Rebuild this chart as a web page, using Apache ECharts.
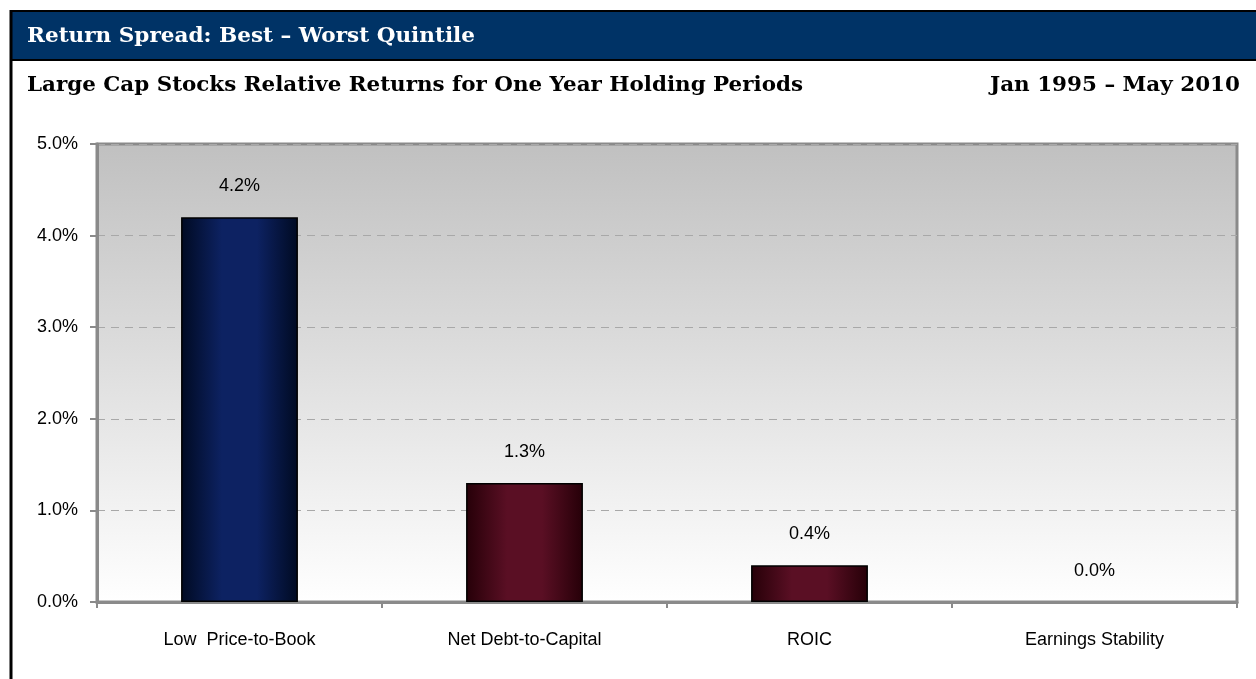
<!DOCTYPE html>
<html>
<head>
<meta charset="utf-8">
<script src="https://cdn.jsdelivr.net/npm/echarts@6/dist/echarts.min.js"></script>
<style>
html,body{margin:0;padding:0;background:#fff;}
#c{width:1256px;height:679px;}
</style>
</head>
<body>
<div id="c"></div>
<script>
const categories = ['Low  Price-to-Book', 'Net Debt-to-Capital', 'ROIC', 'Earnings Stability'];
const values = [4.2, 1.3, 0.4, 0.0];
const yTicks = [0, 1, 2, 3, 4, 5];
const headerTitle = 'Return Spread: Best \u2013 Worst Quintile';
const subTitle = 'Large Cap Stocks Relative Returns for One Year Holding Periods';
const dateRange = 'Jan 1995 \u2013 May 2010';

const serifFont = 'bold 21px "DejaVu Serif", serif';
const mctx = document.createElement('canvas').getContext('2d');
mctx.font = serifFont;
function fitScale(text, target) { return target / mctx.measureText(text).width; }

function hGrad(edge, mid) {
  return new echarts.graphic.LinearGradient(0, 0, 1, 0, [
    {offset: 0, color: edge},
    {offset: 0.35, color: mid},
    {offset: 0.65, color: mid},
    {offset: 1, color: edge}
  ]);
}
const navy = hGrad('#000a22', '#0d2262');
const maroon = hGrad('#260008', '#5a0f24');

function titleText(text, x, y, target, fill) {
  return {type: 'text', x: x, y: y, scaleX: fitScale(text, target), originX: 0, originY: 0,
    style: {text: text, fill: fill, font: serifFont, textVerticalAlign: 'middle'}, z: 3};
}

const chart = echarts.init(document.getElementById('c'), null, {renderer: 'canvas'});
chart.setOption({
  animation: false,
  backgroundColor: '#ffffff',
  graphic: [
    {type: 'rect', shape: {x: 10, y: 11, width: 1246, height: 49}, style: {fill: '#003366'}, z: 1},
    {type: 'line', shape: {x1: 10, y1: 11, x2: 1256, y2: 11}, style: {stroke: '#000', lineWidth: 2}, z: 2},
    {type: 'line', shape: {x1: 10, y1: 60, x2: 1256, y2: 60}, style: {stroke: '#000', lineWidth: 2}, z: 2},
    {type: 'line', shape: {x1: 11, y1: 10, x2: 11, y2: 679}, style: {stroke: '#000', lineWidth: 3}, z: 2},
    titleText(headerTitle, 27, 37, 448, '#fff'),
    titleText(subTitle, 27, 86, 776, '#000'),
    titleText(dateRange, 1240 - 250, 86, 250, '#000')
  ],
  grid: {
    left: 97, right: 19, top: 144, bottom: 77,
    show: true,
    borderColor: '#8a8a8a', borderWidth: 3,
    backgroundColor: new echarts.graphic.LinearGradient(0, 0, 0, 1, [
      {offset: 0, color: '#c0c0c0'},
      {offset: 1, color: '#ffffff'}
    ])
  },
  xAxis: {
    type: 'category',
    data: categories,
    axisLine: {lineStyle: {color: '#8a8a8a', width: 3}},
    axisTick: {show: true, length: 6, alignWithLabel: false, lineStyle: {color: '#8a8a8a', width: 2}},
    axisLabel: {color: '#000', fontFamily: 'Liberation Sans, Arial', fontSize: 18, margin: 29}
  },
  yAxis: {
    type: 'value',
    min: 0, max: 5, interval: 1,
    axisLine: {show: true, lineStyle: {color: '#8a8a8a', width: 3}},
    axisTick: {show: true, length: 7, lineStyle: {color: '#8a8a8a', width: 2}},
    axisLabel: {color: '#000', fontFamily: 'Liberation Sans, Arial', fontSize: 18, margin: 19,
      formatter: v => yTicks.includes(v) ? v.toFixed(1) + '%' : ''},
    splitLine: {show: true, lineStyle: {color: '#a8a8a8', width: 1, type: [8, 6]}}
  },
  series: [{
    type: 'bar',
    barWidth: '41%',
    data: values.map((v, i) => ({
      value: v,
      itemStyle: {color: i === 0 ? navy : maroon, borderColor: '#000', borderWidth: v > 0 ? 1.5 : 0}
    })),
    label: {
      show: true, position: 'top', distance: 22,
      color: '#000', fontFamily: 'Liberation Sans, Arial', fontSize: 18,
      formatter: p => p.value.toFixed(1) + '%'
    }
  }]
});
</script>
</body>
</html>
